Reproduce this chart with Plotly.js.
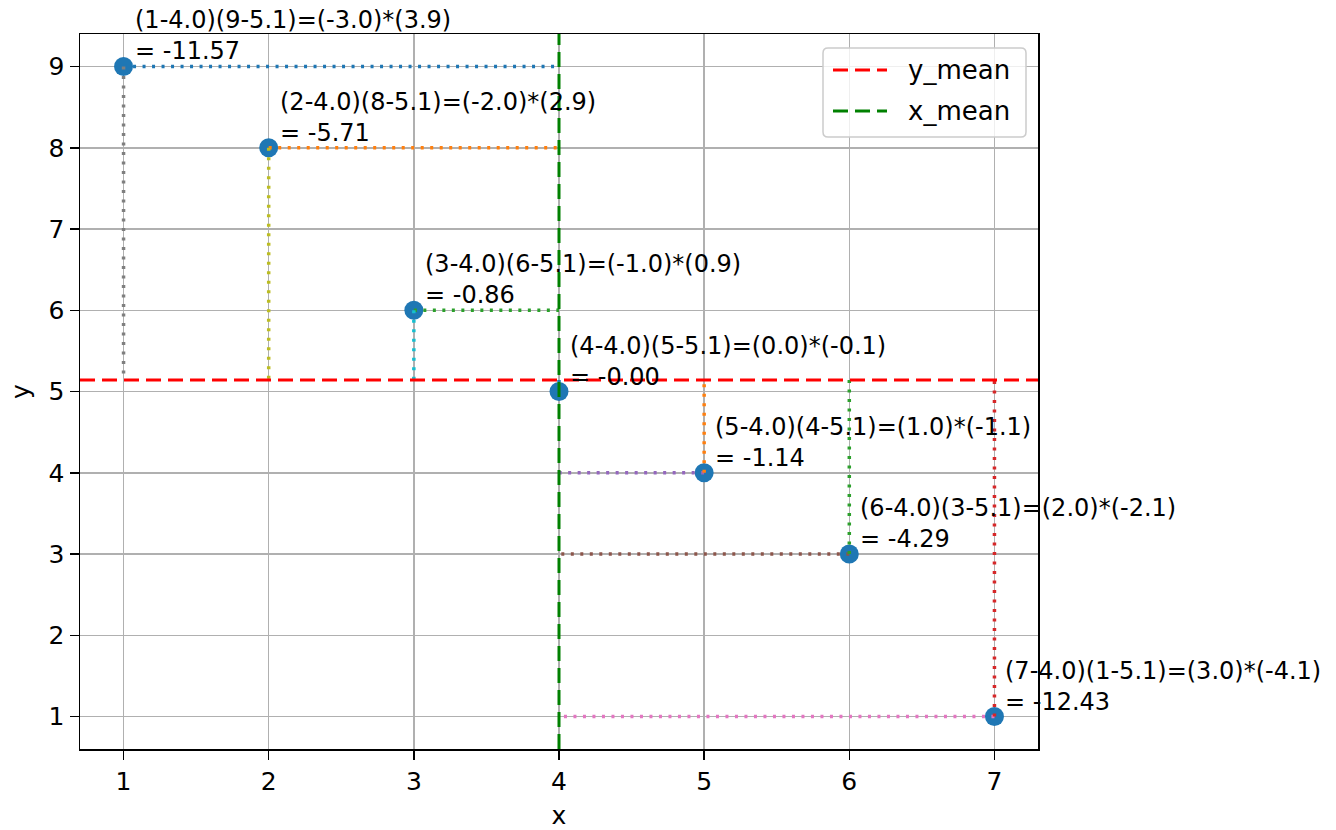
<!DOCTYPE html>
<html>
<head>
<meta charset="utf-8">
<script src="https://cdn.plot.ly/plotly-3.0.1.min.js"></script>
<style>
  html, body { margin: 0; padding: 0; background: #fff; }
  #chart { width: 1336px; height: 830px; }
</style>
</head>
<body>
<div id="chart"></div>
<script>
// ---- data ----
const xs = [1, 2, 3, 4, 5, 6, 7];
const ys = [9, 8, 6, 5, 4, 3, 1];
const meanNames = ['y_mean', 'x_mean'];

// ---- style ----
const cycle = ['#1f77b4', '#ff7f0e', '#2ca02c', '#d62728', '#9467bd',
               '#8c564b', '#e377c2', '#7f7f7f', '#bcbd22', '#17becf'];
const meanColors = ['#ff0000', '#008000'];
const FONT = 'DejaVu Sans, sans-serif';

// plot-area geometry in pixels (for legend placement)
const M = { l: 80, r: 298, t: 34, b: 81 };
const W = 1336, H = 830;
const PW = W - M.l - M.r, PH = H - M.t - M.b;
const px = p => (p - M.l) / PW;          // pixel x -> paper x
const py = p => (H - M.b - p) / PH;       // pixel y -> paper y

const n = xs.length;
const xMean = xs.reduce((a, b) => a + b, 0) / n;
const yMean = ys.reduce((a, b) => a + b, 0) / n;
const xMin = Math.min(...xs), xMax = Math.max(...xs);
const yMin = Math.min(...ys), yMax = Math.max(...ys);
const xLo = xMin - 0.05 * (xMax - xMin), xHi = xMax + 0.05 * (xMax - xMin);
const yLo = yMin - 0.05 * (yMax - yMin), yHi = yMax + 0.05 * (yMax - yMin);

function fmt(v, d) {
  const neg = v < 0 || Object.is(v, -0);
  return (neg ? '-' : '') + Math.abs(v).toFixed(d);
}

const traces = [];
traces.push({
  x: xs, y: ys, type: 'scatter', mode: 'markers', showlegend: false,
  marker: { color: cycle[0], size: 19 }, hoverinfo: 'skip'
});
const dotLine = { width: 3.5, dash: '3px,6.5px' };
// horizontal dotted lines (colors C0..C6)
for (let i = 0; i < n; i++) {
  traces.push({
    x: [xs[i], xMean], y: [ys[i], ys[i]], type: 'scatter', mode: 'lines',
    showlegend: false, hoverinfo: 'skip',
    line: Object.assign({ color: cycle[i % 10] }, dotLine)
  });
}
// vertical dotted lines (colors continue the cycle)
for (let i = 0; i < n; i++) {
  traces.push({
    x: [xs[i], xs[i]], y: [ys[i], yMean], type: 'scatter', mode: 'lines',
    showlegend: false, hoverinfo: 'skip',
    line: Object.assign({ color: cycle[(n + i) % 10] }, dotLine)
  });
}
// mean lines
traces.push({
  x: [xLo, xHi], y: [yMean, yMean], type: 'scatter', mode: 'lines', showlegend: false,
  name: meanNames[0], line: { color: meanColors[0], width: 3, dash: '15px,7px' }, hoverinfo: 'skip'
});
traces.push({
  x: [xMean, xMean], y: [yLo, yHi], type: 'scatter', mode: 'lines', showlegend: false,
  name: meanNames[1], line: { color: meanColors[1], width: 3, dash: '15px,7px' }, hoverinfo: 'skip'
});

const annotations = xs.map((x, i) => {
  const y = ys[i];
  const dx = x - xMean, dy = y - yMean;
  const txt = '(' + x + '-' + xMean.toFixed(1) + ')(' + y + '-' + yMean.toFixed(1) + ')=(' +
              fmt(dx, 1) + ')*(' + fmt(dy, 1) + ')<br>= ' + fmt(dx * dy, 2);
  return {
    x: x, y: y, xref: 'x', yref: 'y', text: txt, showarrow: false,
    xanchor: 'left', yanchor: 'bottom', align: 'left', xshift: 9, yshift: -1,
    font: { family: FONT, size: 24, color: '#000' }
  };
});

// ---- custom legend (matplotlib style) ----
const LB = { x0: 823, x1: 1026, y0: 48, y1: 137, r: 5 };
const legendRows = [70, 111];
function roundedRectPath(b) {
  const x0 = px(b.x0), x1 = px(b.x1), y0 = py(b.y0), y1 = py(b.y1);
  const rx = b.r / PW, ry = b.r / PH;
  return `M${x0 + rx},${y0} L${x1 - rx},${y0} Q${x1},${y0} ${x1},${y0 - ry} ` +
         `L${x1},${y1 + ry} Q${x1},${y1} ${x1 - rx},${y1} L${x0 + rx},${y1} ` +
         `Q${x0},${y1} ${x0},${y1 + ry} L${x0},${y0 - ry} Q${x0},${y0} ${x0 + rx},${y0} Z`;
}
const shapes = [{
  type: 'path', xref: 'paper', yref: 'paper', layer: 'above',
  path: roundedRectPath(LB),
  fillcolor: 'rgba(255,255,255,0.8)', line: { color: '#cccccc', width: 1.5 }
}];
meanNames.forEach((nm, k) => {
  shapes.push({
    type: 'line', xref: 'paper', yref: 'paper', layer: 'above',
    x0: px(833), x1: px(887), y0: py(legendRows[k]), y1: py(legendRows[k]),
    line: { color: meanColors[k], width: 3, dash: '15px,7px' }
  });
  annotations.push({
    x: px(906), y: py(legendRows[k]), xref: 'paper', yref: 'paper',
    xanchor: 'left', yanchor: 'middle', showarrow: false, text: nm,
    font: { family: FONT, size: 26, color: '#000' }
  });
});

const axisCommon = {
  showgrid: true, gridcolor: '#b0b0b0', gridwidth: 1.5,
  zeroline: false, showline: true, linecolor: '#000', linewidth: 1.5, mirror: true,
  ticks: 'outside', ticklen: 9, tickwidth: 1.5, tickcolor: '#000',
  tickfont: { family: FONT, size: 25, color: '#000' }
};

const layout = {
  width: W, height: H,
  margin: { l: M.l, r: M.r, t: M.t, b: M.b, autoexpand: false },
  paper_bgcolor: '#fff', plot_bgcolor: '#fff',
  font: { family: FONT, color: '#000' },
  xaxis: Object.assign({}, axisCommon, {
    range: [xLo, xHi], tickmode: 'linear', tick0: 1, dtick: 1,
    title: { text: 'x', font: { family: FONT, size: 25, color: '#000' }, standoff: 14 }
  }),
  yaxis: Object.assign({}, axisCommon, {
    range: [yLo, yHi], tickmode: 'linear', tick0: 1, dtick: 1,
    title: { text: 'y', font: { family: FONT, size: 25, color: '#000' }, standoff: 12 }
  }),
  showlegend: false,
  shapes: shapes,
  annotations: annotations
};

Plotly.newPlot('chart', traces, layout, { displayModeBar: false, staticPlot: true });
</script>
</body>
</html>
